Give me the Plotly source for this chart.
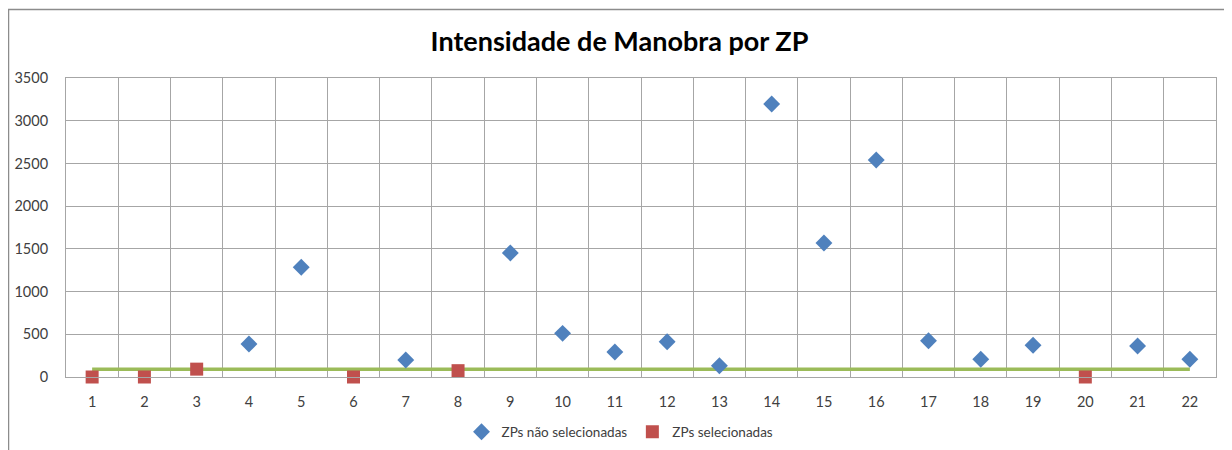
import plotly.graph_objects as go

categories = [str(i) for i in range(1, 23)]

# ZPs não selecionadas (blue diamonds)
nao_sel_x = ["4", "5", "7", "9", "10", "11", "12", "13", "14", "15", "16", "17", "18", "19", "21", "22"]
nao_sel_y = [386, 1285, 199, 1452, 511, 292, 413, 132, 3196, 1569, 2540, 425, 207, 371, 363, 207]

# ZPs selecionadas (red squares)
sel_x = ["1", "2", "3", "6", "8", "20"]
sel_y = [0, 0, 92, 0, 74, 0]

# threshold line
limite_x = categories
limite_y = [90] * len(categories)

y_ticks = [0, 500, 1000, 1500, 2000, 2500, 3000, 3500]

FONT = "Lato"
W, H = 1232, 450
ML, MT, PW, PH = 58, 70, 1150, 299

fig = go.Figure()
fig.add_trace(go.Scatter(
    x=limite_x, y=limite_y, mode="lines",
    line=dict(color="#9bbb59", width=3.5),
    showlegend=False, hoverinfo="skip",
))
fig.add_trace(go.Scatter(
    x=nao_sel_x, y=nao_sel_y, mode="markers", name="ZPs não selecionadas",
    marker=dict(symbol="diamond", color="#4f81bd", size=13),
))
fig.add_trace(go.Scatter(
    x=sel_x, y=sel_y, mode="markers", name="ZPs selecionadas",
    marker=dict(symbol="square", color="#c0504d", size=13),
    cliponaxis=False,
))

fig.update_layout(
    width=W, height=H,
    margin=dict(l=ML, r=W - ML - PW, t=MT, b=H - MT - PH, autoexpand=False),
    paper_bgcolor="white", plot_bgcolor="white",
    font=dict(family=FONT, size=14, color="#404040"),
    title=dict(
        text="<b>Intensidade de Manobra por ZP</b>",
        font=dict(family=FONT, size=27, color="black"),
        xref="container", x=611.5 / W, xanchor="center",
        yref="container", y=1 - 34 / H, yanchor="middle",
    ),
    legend=dict(
        orientation="h", xref="container", x=612 / W, xanchor="center",
        yref="container", y=1 - 424 / H, yanchor="middle",
        font=dict(family=FONT, size=13.5, color="#404040"),
        itemwidth=30,
    ),
    showlegend=True,
)

fig.update_xaxes(
    type="category", categoryorder="array", categoryarray=categories,
    range=[-0.5, len(categories) - 0.5],
    tickson="boundaries", showgrid=True, gridcolor="#a6a6a6", gridwidth=1,
    showline=True, linecolor="#a6a6a6", linewidth=1, mirror=True,
    ticks="", ticklabelstandoff=12, automargin=False,
    tickfont=dict(family=FONT, size=14.5, color="#404040"),
    zeroline=False, fixedrange=True,
)
fig.update_yaxes(
    range=[0, 3500], tickvals=y_ticks,
    showgrid=True, gridcolor="#a6a6a6", gridwidth=1,
    showline=True, linecolor="#a6a6a6", linewidth=1, mirror=True,
    ticks="", ticklabelstandoff=14, automargin=False,
    tickfont=dict(family=FONT, size=14.5, color="#404040"),
    zeroline=False, fixedrange=True,
)

# outer chart frame (Excel chart area border)
fig.add_shape(
    type="rect", xref="paper", yref="paper",
    x0=(0.5 - ML) / PW, x1=(W + 20 - ML) / PW,
    y0=(MT + PH - (H + 20)) / PH, y1=(MT + PH - 1.5) / PH,
    line=dict(color="#8c8c8c", width=1.5), fillcolor="rgba(0,0,0,0)",
    layer="below",
)

fig.write_html("out.html")
